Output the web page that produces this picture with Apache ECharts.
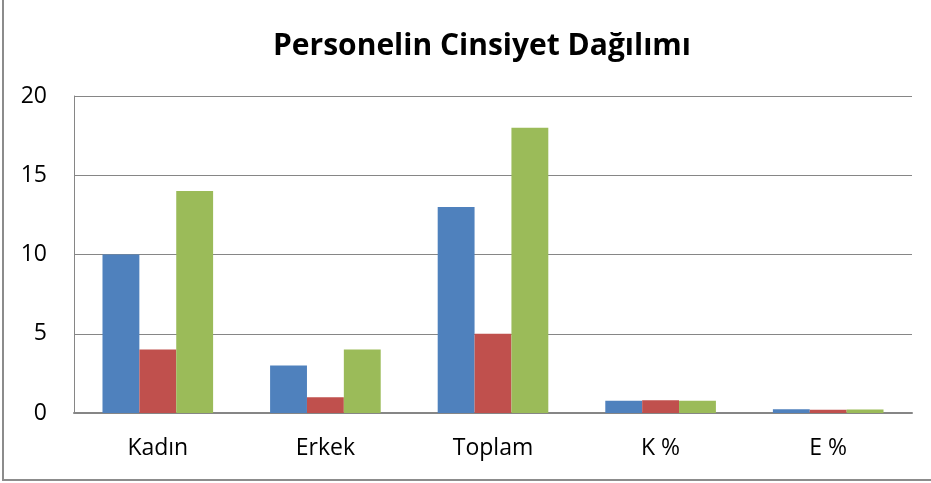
<!DOCTYPE html>
<html>
<head>
<meta charset="utf-8">
<script src="https://cdn.jsdelivr.net/npm/echarts@6/dist/echarts.min.js"></script>
<style>
html,body{margin:0;padding:0;background:#fff;}
#c{width:931px;height:483px;}
</style>
</head>
<body>
<div id="c"></div>
<script>
const categories = ['Kadın', 'Erkek', 'Toplam', 'K %', 'E %'];
const series1 = [10, 3, 13, 0.77, 0.23];
const series2 = [4, 1, 5, 0.8, 0.2];
const series3 = [14, 4, 18, 0.78, 0.22];
const yTicks = { min: 0, max: 20, interval: 5 };
const title = 'Personelin Cinsiyet Dağılımı';

const chart = echarts.init(document.getElementById('c'));
const colors = ['#4F81BD', '#C0504D', '#9BBB59'];
chart.setOption({
  animation: false,
  textStyle: { fontFamily: 'Open Sans' },
  title: {
    text: title, left: 268, top: 26,
    textStyle: { fontFamily: 'Open Sans', fontWeight: 'bold', fontSize: 30, color: '#000' }
  },
  graphic: [{
    type: 'polyline',
    shape: { points: [[3, 0], [3, 480], [931, 480]] },
    style: { stroke: '#8c8c8c', lineWidth: 2, fill: null }
  }],
  grid: { left: 74, right: 19, top: 96, bottom: 70 },
  xAxis: {
    type: 'category', data: categories,
    axisLine: { lineStyle: { color: '#868686', width: 2 } },
    axisTick: { show: false },
    axisLabel: { color: '#000', fontSize: 23, margin: 24, fontFamily: 'Open Sans' }
  },
  yAxis: {
    type: 'value', min: yTicks.min, max: yTicks.max, interval: yTicks.interval,
    axisLine: { show: true, lineStyle: { color: '#868686', width: 1 } },
    axisTick: { show: false },
    splitLine: { lineStyle: { color: '#868686', width: 1 } },
    axisLabel: { color: '#000', fontSize: 23, margin: 27, fontFamily: 'Open Sans' }
  },
  series: [series1, series2, series3].map((d, i) => ({
    type: 'bar', data: d, barGap: '0%', barCategoryGap: '34%',
    itemStyle: { color: colors[i] }
  }))
});
</script>
</body>
</html>
